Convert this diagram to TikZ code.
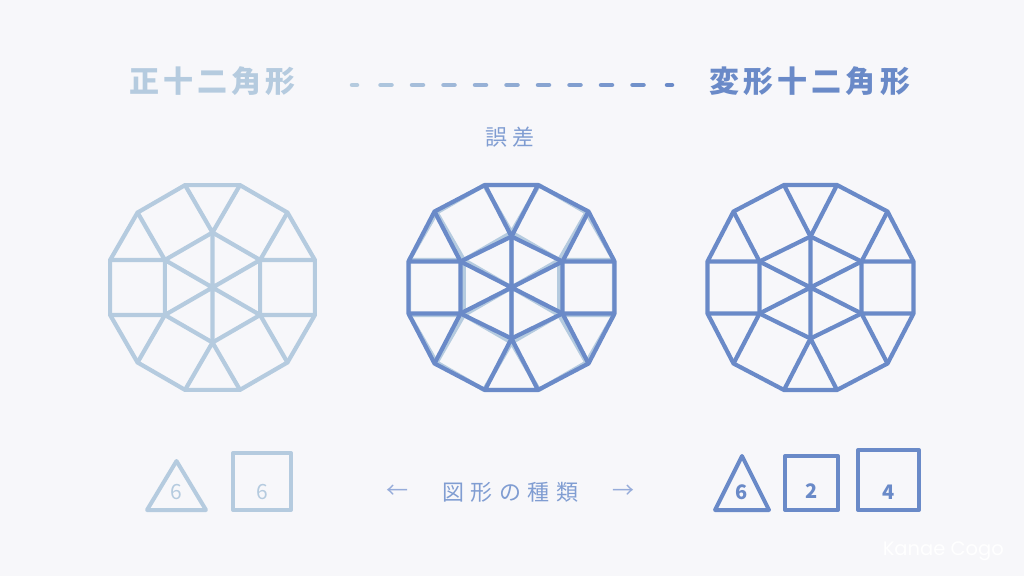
\documentclass[tikz,border=0pt]{standalone}
\usepackage{fontspec}
\setmainfont{Noto Sans CJK JP}
\newfontfamily\signfont{Poppins}

\definecolor{paper}{RGB}{247,247,250}
\definecolor{regblue}{RGB}{181,203,223}
\definecolor{defblue}{RGB}{106,138,200}
\definecolor{midblue}{RGB}{128,157,210}
\definecolor{arrowblue}{RGB}{150,172,218}

\tikzset{
  regline/.style={draw=regblue, line width=4.2pt},
  defline/.style={draw=defblue, line width=4.2pt},
  legline/.style={line width=4pt, line join=round},
  numlabel/.style={inner sep=0pt, font=\fontsize{21}{21}\selectfont},
}

% regular dodecagon cut into hexagon, squares and triangles
\newcommand{\regdodeca}[2]{%
  \begin{scope}[shift={#1}]
    \foreach \k in {0,...,11} \coordinate (o\k) at ({15+30*\k}:106);
    \foreach \j in {0,...,5} \coordinate (h\j) at ({30+60*\j}:55);
    \draw[#2] (o0) \foreach \k in {1,...,11}{-- (o\k)} -- cycle;
    \draw[#2] (h0) \foreach \j in {1,...,5}{-- (h\j)} -- cycle;
    \draw[#2] (h0) -- (h3) (h1) -- (h4) (h2) -- (h5);
    \foreach \j in {0,...,5}{
      \pgfmathtruncatemacro\p{2*\j}
      \pgfmathtruncatemacro\q{2*\j+1}
      \draw[#2] (o\p) -- (h\j) -- (o\q);
    }
  \end{scope}}

% deformed dodecagon, same cut
\newcommand{\defdodeca}[2]{%
  \begin{scope}[shift={#1}]
    \foreach \k/\px/\py in {0/103/26, 1/77/76, 2/26.5/102.5, 3/-26.5/102.5,
        4/-77/76, 5/-103/26, 6/-103/-26, 7/-77/-76, 8/-26.5/-102.5,
        9/26.5/-102.5, 10/77/-76, 11/103/-26}
      \coordinate (o\k) at (\px,\py);
    \foreach \j/\px/\py in {0/51/26, 1/0/51, 2/-51/26, 3/-51/-26, 4/0/-51, 5/51/-26}
      \coordinate (h\j) at (\px,\py);
    \draw[#2] (o0) \foreach \k in {1,...,11}{-- (o\k)} -- cycle;
    \draw[#2] (h0) \foreach \j in {1,...,5}{-- (h\j)} -- cycle;
    \draw[#2] (h0) -- (h3) (h1) -- (h4) (h2) -- (h5);
    \foreach \j in {0,...,5}{
      \pgfmathtruncatemacro\p{2*\j}
      \pgfmathtruncatemacro\q{2*\j+1}
      \draw[#2] (o\p) -- (h\j) -- (o\q);
    }
  \end{scope}}

\begin{document}
\begin{tikzpicture}[x=1pt,y=-1pt]
  % background
  \fill[paper] (0,0) rectangle (1024,576);
  \useasboundingbox (0,0) rectangle (1024,576);

  % Titles
  \node[anchor=west, inner sep=0pt, text=regblue,
    font=\fontsize{30}{30}\selectfont\bfseries\addfontfeature{LetterSpace=14}]
    (regtitle) at (129,81.5) {正十二角形};
  \node[anchor=west, inner sep=0pt, text=defblue,
    font=\fontsize{30}{30}\selectfont\bfseries\addfontfeature{LetterSpace=14}]
    (deftitle) at (709,81.5) {変形十二角形};

  % Dashes from regular to deformed
  \foreach \i in {0,...,10}{
    \pgfmathtruncatemacro\mixpc{100-10*\i}
    \pgfmathsetmacro\cx{354.5+31.5*\i}
    \ifnum\i=0 \def\hl{2.5}\else\ifnum\i=10 \def\hl{2.5}\else\def\hl{5.5}\fi\fi
    \draw[regblue!\mixpc!defblue, line width=4.5pt, line cap=round]
      (\cx-\hl,85) -- (\cx+\hl,85);
  }

  % Error label
  \node[anchor=west, inner sep=0pt, text=midblue,
    font=\fontsize{22}{22}\selectfont\addfontfeature{LetterSpace=23}]
    (error) at (485,137) {誤差};

  % Drawing the dodecagons
  \regdodeca{(212.5,287.5)}{regline}
  \regdodeca{(511.5,287.5)}{regline}
  \defdodeca{(511.5,287.5)}{defline}
  \defdodeca{(810.5,287.5)}{defline}

  % Legend, regular
  \draw[legline, regblue] (147,510) -- (176.5,461) -- (206,510) -- cycle;
  \node[numlabel, text=regblue] (regtri) at (176.5,492.5) {6};
  \draw[legline, regblue] (233,453) rectangle (291,510);
  \node[numlabel, text=regblue] (regsq) at (262,492) {6};

  % Legend, deformed
  \draw[legline, defblue] (715,510) -- (742,456) -- (769,510) -- cycle;
  \node[numlabel, text=defblue, font=\fontsize{20}{20}\selectfont\bfseries] (deftri) at (742,492) {6};
  \draw[legline, defblue] (785,456) rectangle (838,510);
  \node[numlabel, text=defblue, font=\fontsize{20}{20}\selectfont\bfseries] (defsqa) at (811.5,491) {2};
  \draw[legline, defblue] (858,450) rectangle (919,510);
  \node[numlabel, text=defblue, font=\fontsize{20}{20}\selectfont\bfseries] (defsqb) at (888.5,492) {4};

  % Kinds of shapes
  \node[anchor=west, inner sep=0pt, text=midblue,
    font=\fontsize{22}{22}\selectfont\addfontfeature{LetterSpace=30}]
    (kinds) at (442,492.5) {図形の種類};
  \node[inner sep=0pt, text=arrowblue, font=\fontsize{22}{22}\selectfont]
    (larrow) at (397,492) {←};
  \node[inner sep=0pt, text=arrowblue, font=\fontsize{22}{22}\selectfont]
    (rarrow) at (623,492) {→};

  % Signature
  \node[anchor=east, inner sep=0pt, text=white, font=\signfont\fontsize{19.5}{19.5}\selectfont]
    (sign) at (1004,551) {Kanae Cogo};
\end{tikzpicture}
\end{document}
